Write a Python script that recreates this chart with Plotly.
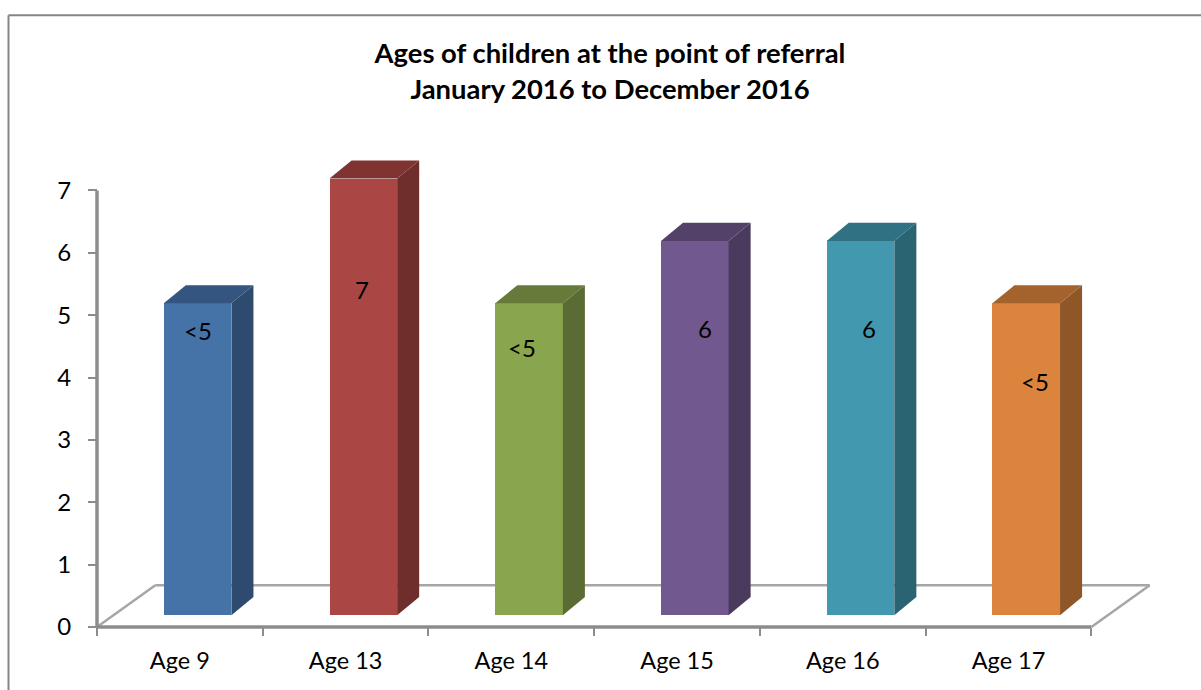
import plotly.graph_objects as go

categories = ["Age 9", "Age 13", "Age 14", "Age 15", "Age 16", "Age 17"]
values = [5, 7, 5, 6, 6, 5]
value_labels = ["<5", "7", "<5", "6", "6", "<5"]
y_ticks = [0, 1, 2, 3, 4, 5, 6, 7]

front_colors = ["#4572A7", "#AA4643", "#89A54E", "#71588F", "#4198AF", "#DB843D"]
top_colors = ["#34557F", "#7F3432", "#667B3A", "#54416A", "#307183", "#A4622D"]
side_colors = ["#2E4A6E", "#6F2E2C", "#5A6C33", "#4A3A5D", "#2A6372", "#8F5628"]

# geometry of the fake-3D drawing, in axis units
W, H = 1201, 690
PAD = 4  # px of plot area kept left of x=0 and below y=0 so the thick axis lines are not clipped
ML, MR, MT, MB = 97 - PAD, 45, 152.5, 63 - PAD
UX, UY = 165.8, 62.43  # px per axis unit
X_MAX, Y_MAX = 6.39, 7.6
BAR_START, BAR_W, BAR_BASE = 0.403, 0.408, 0.19
DX, DY = 0.133, 0.29
FLOOR_DX, FLOOR_DY = 0.352, 0.67
LABEL_Y = [4.75, 5.41, 4.48, 4.78, 4.78, 3.93]
LABEL_DX = [0.0, -0.005, -0.04, 0.06, 0.05, 0.05]
AXIS = "#8C8C8C"
FLOOR = "#A6A6A6"

fig = go.Figure()
x_front = [i + BAR_START + BAR_W / 2 for i in range(len(values))]
fig.add_trace(go.Bar(x=x_front, y=values, base=BAR_BASE, width=BAR_W,
                     marker=dict(color=front_colors, line=dict(width=0)),
                     hoverinfo="skip", showlegend=False))

for i, v in enumerate(values):
    x0 = i + BAR_START
    x1 = x0 + BAR_W
    top = v + BAR_BASE
    fig.add_trace(go.Scatter(
        x=[x1, x1 + DX, x1 + DX, x1, x1],
        y=[BAR_BASE, BAR_BASE + DY, top + DY, top, BAR_BASE],
        mode="lines", fill="toself", fillcolor=side_colors[i],
        line=dict(width=0), hoverinfo="skip", showlegend=False))
    fig.add_trace(go.Scatter(
        x=[x0, x1, x1 + DX, x0 + DX, x0],
        y=[top, top, top + DY, top + DY, top],
        mode="lines", fill="toself", fillcolor=top_colors[i],
        line=dict(width=0), hoverinfo="skip", showlegend=False))

# axis lines and floor edges
for xs, ys, w, c in [
    ([0, FLOOR_DX], [0, FLOOR_DY], 2.5, FLOOR),
    ([6, 6 + FLOOR_DX], [0, FLOOR_DY], 2.5, FLOOR),
    ([0, 0], [0, 7], 3.5, AXIS),
    ([0, 6], [0, 0], 3.5, AXIS),
]:
    fig.add_trace(go.Scatter(x=xs, y=ys, mode="lines",
                             line=dict(color=c, width=w),
                             hoverinfo="skip", showlegend=False))

plot_w = W - ML - MR
plot_h = H - MT - MB
shapes = [
    dict(type="line", xref="x", yref="y", layer="below",
         x0=FLOOR_DX, x1=6 + FLOOR_DX, y0=FLOOR_DY, y1=FLOOR_DY,
         line=dict(color=FLOOR, width=2.5)),
    dict(type="line", xref="paper", yref="paper",
         x0=(8.5 - ML) / plot_w, x1=(W - ML) / plot_w,
         y0=(H - MB - 14.5) / plot_h, y1=(H - MB - 14.5) / plot_h,
         line=dict(color="#868686", width=2)),
    dict(type="line", xref="paper", yref="paper",
         x0=(8.5 - ML) / plot_w, x1=(8.5 - ML) / plot_w,
         y0=(H - MB - 14.5) / plot_h, y1=(H - MB - H) / plot_h,
         line=dict(color="#868686", width=2)),
]

annotations = [
    dict(x=x_front[i] + LABEL_DX[i], y=LABEL_Y[i], xref="x", yref="y",
         text=value_labels[i].replace("<", "&lt;"),
         showarrow=False, font=dict(family="Lato", size=24, color="#000000"))
    for i in range(len(values))
]

fig.update_layout(
    width=W, height=H,
    margin=dict(l=ML, r=MR, t=MT, b=MB, pad=0),
    paper_bgcolor="#FFFFFF", plot_bgcolor="#FFFFFF",
    font=dict(family="Lato", size=22, color="#000000"),
    title=dict(text="<b>Ages of children at the point of referral<br>January 2016 to December 2016</b>",
               x=610 / W, xanchor="center", xref="container",
               y=1 - 63 / H, yanchor="top",
               font=dict(family="Lato", size=27.4, color="#000000")),
    xaxis=dict(range=[-PAD / UX, X_MAX], showgrid=False, zeroline=False, showline=False,
               anchor="free", position=PAD / plot_h,
               tickmode="array", tickvals=[i + 0.5 for i in range(len(categories))],
               ticktext=categories, ticks="", ticklabelstandoff=17,
               minor=dict(tickmode="array", tickvals=list(range(len(categories) + 1)),
                          ticks="outside", ticklen=8, tickwidth=2, tickcolor=AXIS, showgrid=False),
               tickfont=dict(family="Lato", size=23.5)),
    yaxis=dict(range=[-PAD / UY, Y_MAX], showgrid=False, zeroline=False, showline=False,
               anchor="free", position=PAD / plot_w,
               tickmode="array", tickvals=y_ticks, ticks="outside", ticklen=9,
               tickwidth=2, tickcolor=AXIS, ticklabelstandoff=12,
               tickfont=dict(family="Lato", size=24)),
    shapes=shapes, annotations=annotations,
    bargap=0,
)

fig.write_html("out.html", config={"displayModeBar": False},
               post_script="document.body.style.margin='0';")
